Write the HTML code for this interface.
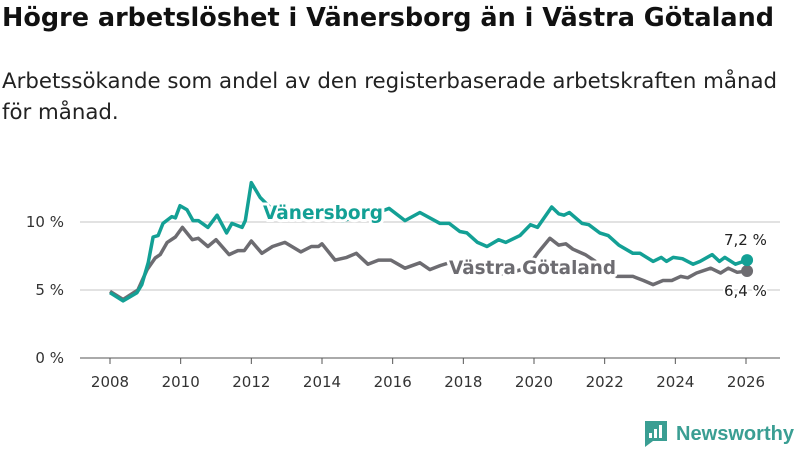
<!DOCTYPE html>
<html><head><meta charset="utf-8"><style>
body{margin:0;width:800px;height:450px;background:#fff;font-family:"DejaVu Sans","Liberation Sans",sans-serif;overflow:hidden;position:relative}
h1{position:absolute;left:2px;top:3px;margin:0;font-size:25.5px;font-weight:bold;color:#111;white-space:nowrap}
.sub{position:absolute;left:2px;top:66px;margin:0;font-size:21.3px;line-height:31px;color:#222;white-space:nowrap}
svg{position:absolute;left:0;top:0;font-family:"DejaVu Sans","Liberation Sans",sans-serif}
</style></head><body>
<h1>Högre arbetslöshet i Vänersborg än i Västra Götaland</h1>
<p class="sub">Arbetssökande som andel av den registerbaserade arbetskraften månad<br>för månad.</p>
<svg id="chart" width="800" height="450"></svg>
<script>
const vYears=[2008.0,2008.37,2008.76,2008.9,2009.08,2009.22,2009.36,2009.5,2009.75,2009.85,2009.98,2010.18,2010.35,2010.5,2010.77,2011.03,2011.3,2011.45,2011.74,2011.83,2012.0,2012.25,2012.6,2013.0,2013.4,2013.8,2014.2,2014.6,2015.0,2015.4,2015.9,2016.35,2016.77,2017.34,2017.6,2017.9,2018.1,2018.4,2018.67,2019.0,2019.2,2019.6,2019.9,2020.1,2020.5,2020.7,2020.85,2021.0,2021.36,2021.55,2021.86,2022.1,2022.4,2022.8,2023.0,2023.37,2023.6,2023.75,2023.94,2024.2,2024.5,2024.7,2025.04,2025.25,2025.4,2025.7,2026.03];
const vVals=[4.8,4.2,4.8,5.4,7.0,8.9,9.0,9.9,10.4,10.3,11.2,10.9,10.1,10.1,9.6,10.5,9.2,9.9,9.6,10.1,12.9,11.8,10.9,10.6,10.2,10.5,10.3,10.1,10.4,10.5,11.0,10.1,10.7,9.9,9.9,9.3,9.2,8.5,8.2,8.7,8.5,9.0,9.8,9.6,11.1,10.6,10.5,10.7,9.9,9.8,9.2,9.0,8.3,7.7,7.7,7.1,7.4,7.1,7.4,7.3,6.9,7.1,7.6,7.1,7.4,6.9,7.2];
const gYears=[2008.0,2008.37,2008.79,2009.05,2009.28,2009.42,2009.62,2009.85,2010.05,2010.33,2010.5,2010.77,2011.0,2011.37,2011.62,2011.8,2012.0,2012.3,2012.6,2012.95,2013.4,2013.7,2013.9,2014.0,2014.37,2014.7,2014.97,2015.3,2015.6,2015.95,2016.35,2016.77,2017.05,2017.35,2017.6,2017.9,2018.3,2018.7,2019.1,2019.5,2019.8,2020.1,2020.45,2020.7,2020.9,2021.1,2021.45,2021.8,2022.1,2022.35,2022.8,2023.1,2023.37,2023.65,2023.9,2024.15,2024.35,2024.6,2025.0,2025.28,2025.5,2025.75,2026.03];
const gVals=[4.9,4.3,5.0,6.5,7.35,7.6,8.5,8.9,9.6,8.7,8.8,8.2,8.7,7.6,7.9,7.9,8.6,7.7,8.2,8.5,7.8,8.2,8.2,8.4,7.2,7.4,7.7,6.9,7.2,7.2,6.6,7.0,6.5,6.8,7.0,6.4,6.3,6.5,6.2,6.4,6.6,7.7,8.8,8.3,8.4,8.0,7.6,7.0,6.4,6.0,6.0,5.7,5.4,5.7,5.7,6.0,5.9,6.25,6.6,6.25,6.6,6.3,6.4];
const xTicks=[2008,2010,2012,2014,2016,2018,2020,2022,2024,2026];
const yTicks=[0,5,10];
const yTickLabels=["0 %","5 %","10 %"];
const NS="http://www.w3.org/2000/svg";
const svg=document.getElementById('chart');
const X=y=>110+(y-2008)*(746-110)/18;
const Y=v=>358-v*13.6;
function mk(t,a,p){const e=document.createElementNS(NS,t);for(const k in a)e.setAttribute(k,a[k]);(p||svg).appendChild(e);return e;}
yTicks.forEach((t,i)=>{
 const l=mk('line',{x1:80,x2:780,y1:Y(t),y2:Y(t),stroke:t===0?'#555':'#d8d8d8','stroke-width':t===0?1:1.5});
 
 
 const tx=mk('text',{x:64,y:Y(t)+5,'text-anchor':'end','font-size':15,fill:'#333'});
 tx.textContent=yTickLabels[i];
 
 
});
xTicks.forEach(t=>{
 const l=mk('line',{x1:X(t),x2:X(t),y1:358,y2:364,stroke:'#555'});
 
 
 const tx=mk('text',{x:X(t),y:387,'text-anchor':'middle','font-size':15,fill:'#333'});
 tx.textContent=t;
 
 
});
function line(ys,vs,c,name){
 const d=ys.map((y,i)=>(i?'L':'M')+X(y).toFixed(1)+','+Y(vs[i]).toFixed(1)).join('');
 const p=mk('path',{d:d,fill:'none',stroke:c,'stroke-width':3.5,'stroke-linejoin':'round'});
 
 
 const n=ys.length-1;
 const c2=mk('circle',{cx:X(ys[n]),cy:Y(vs[n]),r:6,fill:c});
 
 
}
line(gYears,gVals,'#6d6c71','vastra-gotaland-line');
line(vYears,vVals,'#13a095','vanersborg-line');
function lab(x,y,t,c,name,bold,size,len){
 const a={x:x,y:y,'font-size':size,'font-weight':bold?'bold':'normal',fill:c,stroke:'#fff','stroke-width':bold?6:4,'paint-order':'stroke','stroke-linejoin':'round'};
 if(len){a.textLength=len;a.lengthAdjust='spacingAndGlyphs';}
 const e=mk('text',a);
 e.textContent=t;
 
 
}
lab(263,219,'Vänersborg','#13a095','vanersborg-label',true,19,120);
lab(449,274,'Västra Götaland','#6d6c71','vastra-gotaland-label',true,19,167);
lab(724,245,'7,2 %','#222','vanersborg-end-value',false,15);
lab(724,296,'6,4 %','#222','vastra-gotaland-end-value',false,15);
const g=mk('g',{});


mk('path',{d:'M645,421 h22 v20 h-14 l-8,6 z',fill:'#3a9e93'},g);
[[649,433,3,5],[654,429,3,9],[659,425,3,13]].forEach(r=>mk('rect',{x:r[0],y:r[1],width:r[2],height:r[3],fill:'#fff'},g));
const lt=mk('text',{x:676,y:440,'font-size':20,'font-weight':'bold',fill:'#3a9e93','font-family':'Liberation Sans, sans-serif',textLength:118,lengthAdjust:'spacingAndGlyphs'},g);
lt.textContent='Newsworthy';
</script>
</body></html>
